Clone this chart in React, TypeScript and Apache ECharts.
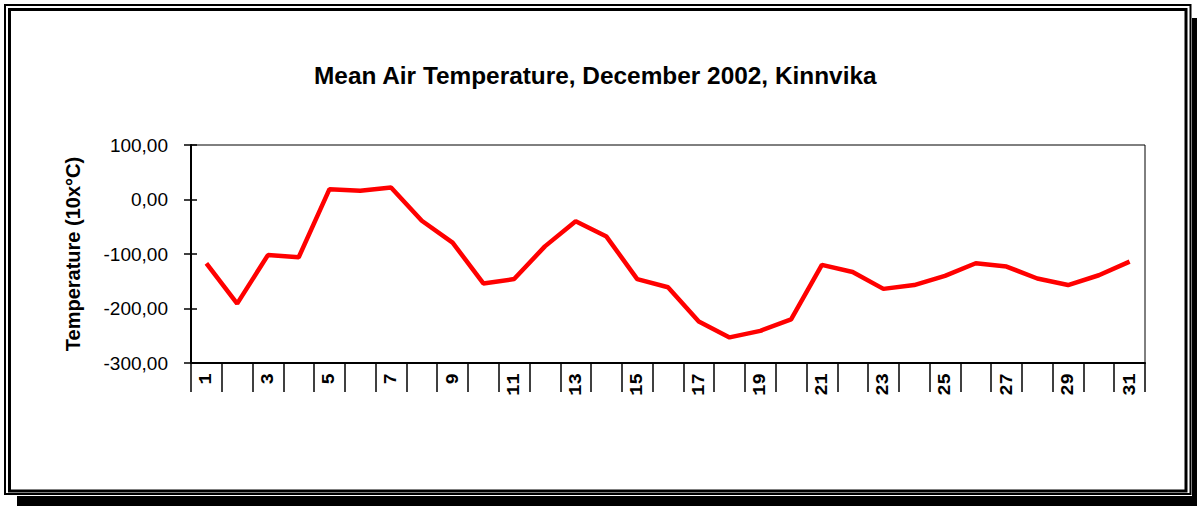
import React, { useEffect, useRef } from "react";
import * as echarts from "echarts";

const titleText = "Mean Air Temperature, December 2002, Kinnvika";
const yAxisName = "Temperature (10x°C)";
const days = [
  "1", "2", "3", "4", "5", "6", "7", "8", "9", "10",
  "11", "12", "13", "14", "15", "16", "17", "18", "19", "20",
  "21", "22", "23", "24", "25", "26", "27", "28", "29", "30", "31",
];
const meanTemp = [
  -117, -191, -102, -106, 19, 16, 22, -39, -79, -154,
  -146, -86, -40, -68, -146, -161, -224, -253, -241, -220,
  -120, -133, -164, -157, -140, -117, -123, -145, -157, -139, -114,
];
const yMin = -300;
const yMax = 100;
const yStep = 100;

const fmt = (v: number) => v.toFixed(2).replace(".", ",");

export default function App() {
  const ref = useRef<HTMLDivElement>(null);
  useEffect(() => {
    if (!ref.current) return;
    const chart = echarts.init(ref.current, null, { renderer: "svg" });
    chart.setOption({
      animation: false,
      backgroundColor: "#ffffff",
      title: {
        text: titleText,
        left: 309,
        top: 58,
        textStyle: {
          fontFamily: "Arial, 'Liberation Sans', sans-serif",
          fontWeight: "bold",
          fontSize: 24.4,
          color: "#000",
        },
      },
      grid: {
        left: 191,
        top: 145,
        right: 52,
        bottom: 143,
        show: true,
        borderColor: "#000",
        borderWidth: 1,
        backgroundColor: "transparent",
      },
      xAxis: {
        type: "category",
        data: days,
        boundaryGap: true,
        axisLine: { show: true, onZero: false, lineStyle: { color: "#000", width: 2 } },
        axisTick: {
          show: true,
          interval: 0,
          length: 29,
          lineStyle: { color: "#000", width: 1.5 },
        },
        axisLabel: {
          interval: 1,
          rotate: 90,
          margin: 10,
          fontFamily: "'Liberation Mono', 'Courier New', monospace",
          fontWeight: "bold",
          fontSize: 19,
          color: "#000",
        },
        splitLine: { show: false },
      },
      yAxis: [
        {
          type: "value",
          min: yMin,
          max: yMax,
          interval: yStep,
          name: yAxisName,
          nameLocation: "middle",
          nameGap: 108,
          nameTextStyle: {
            fontFamily: "Arial, 'Liberation Sans', sans-serif",
            fontWeight: "bold",
            fontSize: 20,
            color: "#000",
          },
          axisLine: { show: true, lineStyle: { color: "#000", width: 2 } },
          axisTick: { show: true, length: 7, lineStyle: { color: "#000", width: 1.5 } },
          axisLabel: {
            margin: 23,
            formatter: (v: number) => fmt(v),
            fontFamily: "Arial, 'Liberation Sans', sans-serif",
            fontSize: 19,
            color: "#000",
          },
          splitLine: { show: false },
        },
        {
          type: "value",
          min: yMin,
          max: yMax,
          interval: yStep,
          position: "left",
          offset: 0,
          axisLine: { show: false },
          axisTick: { show: true, inside: true, length: 6, lineStyle: { color: "#000", width: 1.5 } },
          axisLabel: { show: false },
          splitLine: { show: false },
        },
      ],
      series: [
        {
          type: "line",
          data: meanTemp,
          yAxisIndex: 0,
          symbol: "none",
          lineStyle: { color: "#ff0000", width: 4.5 },
          itemStyle: { color: "#ff0000" },
        },
      ],
      graphic: [
        { type: "rect", shape: { x: 1192, y: 18, width: 10, height: 500 }, style: { fill: "#000" }, z: 100 },
        { type: "rect", shape: { x: 17, y: 496, width: 1190, height: 12 }, style: { fill: "#000" }, z: 100 },
        { type: "rect", shape: { x: 5, y: 5, width: 1185.5, height: 489 }, style: { fill: "none", stroke: "#000", lineWidth: 2 }, z: 100 },
        { type: "rect", shape: { x: 9.5, y: 9.5, width: 1176.5, height: 481.5 }, style: { fill: "none", stroke: "#000", lineWidth: 3 }, z: 100 },
      ],
    });
    return () => chart.dispose();
  }, []);
  return (
    <div
      ref={ref}
      style={{ position: "fixed", left: 0, top: 0, width: 1197, height: 506 }}
    />
  );
}
